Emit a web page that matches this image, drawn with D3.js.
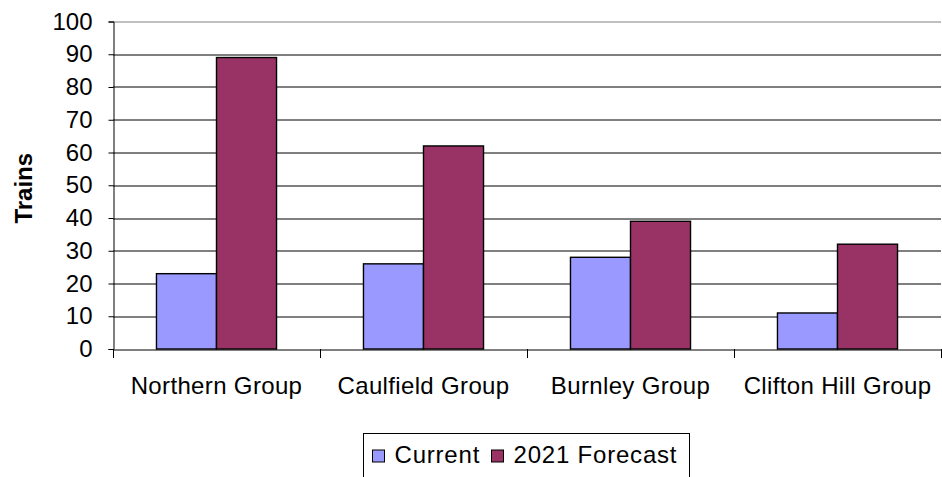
<!DOCTYPE html>
<html>
<head>
<meta charset="utf-8">
<script src="https://cdn.jsdelivr.net/npm/d3@7"></script>
<style>
  body { margin: 0; background: #fff; }
  text { font-family: "Liberation Sans", Arial, sans-serif; fill: #000; }
</style>
</head>
<body>
<div id="chart"></div>
<script>
var groups = ["Northern Group", "Caulfield Group", "Burnley Group", "Clifton Hill Group"];
var seriesNames = ["Current", "2021 Forecast"];
var current = [23, 26, 28, 11];
var forecast = [89, 62, 39, 32];
var yTicks = [0, 10, 20, 30, 40, 50, 60, 70, 80, 90, 100];
var colors = ["#9999ff", "#993366"];

var margin = {top: 21.5, right: 1, bottom: 128, left: 113},
    width = 942 - margin.left - margin.right,
    height = 477 - margin.top - margin.bottom;

var svg = d3.select("#chart")
  .append("svg")
    .attr("width", 942)
    .attr("height", 477)
  .append("g")
    .attr("transform", "translate(" + margin.left + "," + margin.top + ")");

var x = d3.scaleBand()
  .domain(groups)
  .range([0, width])
  .paddingInner(0)
  .paddingOuter(0);

var inner = d3.scaleBand()
  .domain(seriesNames)
  .range([0, x.bandwidth() * 0.58])

var y = d3.scaleLinear()
  .domain([0, 100])
  .range([height, 0]);

// gridlines
svg.append("g")
  .selectAll("line")
  .data(yTicks.filter(function(d) { return d > 0; }))
  .join("line")
    .attr("x1", 0)
    .attr("x2", width)
    .attr("y1", function(d) { return Math.round(y(d)) + 0.5; })
    .attr("y2", function(d) { return Math.round(y(d)) + 0.5; })
    .attr("stroke", function(d) { return d === 100 ? "#808080" : "#000"; })
    .attr("stroke-width", 1);

// bars
var data = groups.map(function(g, i) {
  return {group: g, values: [current[i], forecast[i]]};
});
var offset = (x.bandwidth() - x.bandwidth() * 0.58) / 2;

svg.append("g")
  .selectAll("g")
  .data(data)
  .join("g")
    .attr("transform", function(d) { return "translate(" + (x(d.group) + offset) + ",0)"; })
  .selectAll("rect")
  .data(function(d) { return d.values.map(function(v, j) { return {key: seriesNames[j], value: v, j: j}; }); })
  .join("rect")
    .attr("x", function(d) { return inner(d.key); })
    .attr("y", function(d) { return y(d.value); })
    .attr("width", inner.bandwidth())
    .attr("height", function(d) { return height - y(d.value); })
    .attr("fill", function(d) { return colors[d.j]; })
    .attr("stroke", "#000")
    .attr("stroke-width", 1.4);

// Y axis
var yAxis = svg.append("g")
  .attr("transform", "translate(0.5,0)")
  .call(d3.axisLeft(y).tickValues(yTicks).tickSize(5).tickPadding(16));
yAxis.select(".domain").attr("stroke", "#000");
yAxis.selectAll("text").style("font-size", "24px").style("font-family", "Liberation Sans, Arial, sans-serif");

// X axis
var xAxis = svg.append("g")
  .attr("transform", "translate(0," + (height + 0.5) + ")")
  .call(d3.axisBottom(x).tickSize(0).tickPadding(27));
xAxis.select(".domain").attr("stroke", "#000");
xAxis.selectAll("text")
  .style("font-size", "24px")
  .style("font-family", "Liberation Sans, Arial, sans-serif")
  .style("letter-spacing", "0.35px");

// category separators
svg.append("g")
  .selectAll("line")
  .data(groups.concat(["end"]))
  .join("line")
    .attr("x1", function(d, i) { return Math.round(i * x.step()) + 0.5; })
    .attr("x2", function(d, i) { return Math.round(i * x.step()) + 0.5; })
    .attr("y1", height)
    .attr("y2", height + 9)
    .attr("stroke", "#000");

// y title
svg.append("text")
  .attr("transform", "translate(" + (-81) + "," + (height / 2 + 3) + ") rotate(-90)")
  .attr("text-anchor", "middle")
  .style("font-size", "24px")
  .style("font-weight", "bold")
  .text("Trains");

// legend
var legend = d3.select("svg").append("g").attr("transform", "translate(363.5,433.5)");
legend.append("rect")
  .attr("width", 326)
  .attr("height", 60)
  .attr("fill", "#fff")
  .attr("stroke", "#000");
var lx = [9, 128];
seriesNames.forEach(function(s, i) {
  legend.append("rect")
    .attr("x", lx[i])
    .attr("y", 16.5)
    .attr("width", 12)
    .attr("height", 12)
    .attr("fill", colors[i])
    .attr("stroke", "#000");
  legend.append("text")
    .attr("x", lx[i] + 22)
    .attr("y", 29.5)
    .style("font-size", "24px")
    .style("letter-spacing", "0.8px")
    .text(s);
});
</script>
</body>
</html>
